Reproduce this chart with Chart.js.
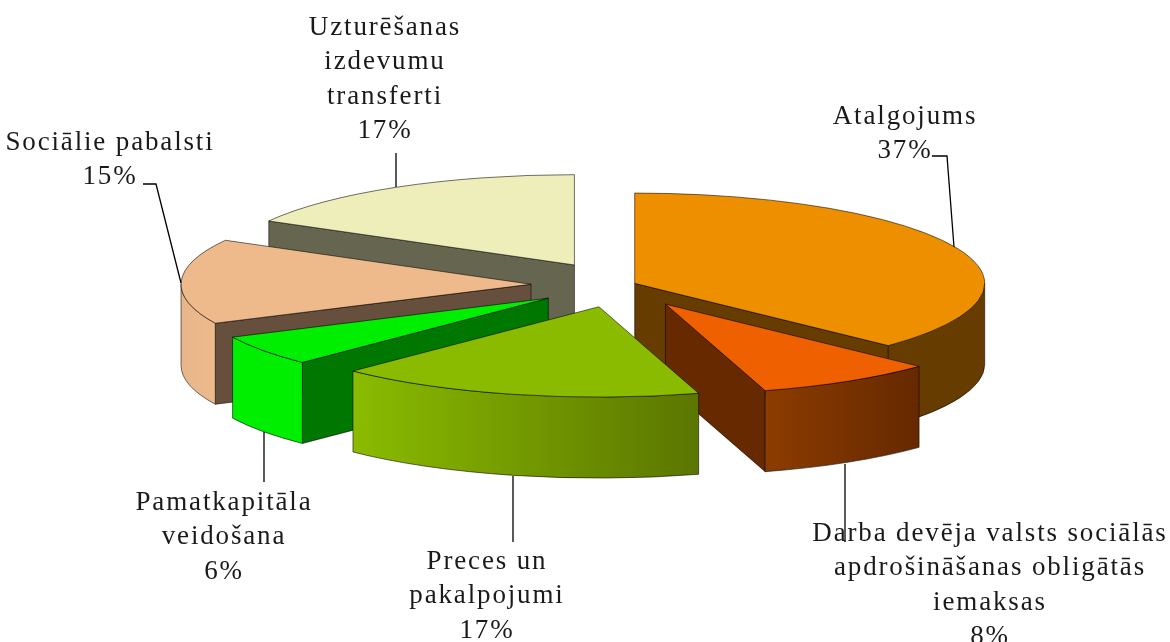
<!DOCTYPE html>
<html>
<head>
<meta charset="utf-8">
<style>
  html, body { margin: 0; padding: 0; background: #fff; overflow: hidden; }
  canvas { display: block; }
</style>
<script src="https://cdn.jsdelivr.net/npm/chart.js@4"></script>
</head>
<body>
<canvas id="pie" width="1170" height="642"></canvas>
<script>
const categories = [
    "Atalgojums",
    "Darba devēja valsts sociālās apdrošināšanas obligātās iemaksas",
    "Preces un pakalpojumi",
    "Pamatkapitāla veidošana",
    "Sociālie pabalsti",
    "Uzturēšanas izdevumu transferti"
];
// the labels show them rounded
const shares = [37.1, 8.3, 17.0, 5.5, 15.2, 16.9];

// wrapped the way the picture wraps them
const labelLines = [
    ["Atalgojums"],
    ["Darba devēja valsts sociālās", "apdrošināšanas obligātās", "iemaksas"],
    ["Preces un", "pakalpojumi"],
    ["Pamatkapitāla", "veidošana"],
    ["Sociālie pabalsti"],
    ["Uzturēšanas", "izdevumu", "transferti"]
];

// styling
const topColors  = ['#ee8f00', '#ee6000', '#8abb00', '#00ee00', '#eeba8c', '#eeeebb'];
const edgeColors = ['#663c00', '#662900', '#5b7600', '#007700', '#664f3c', '#666650'];
const rimFrom    = ['#663c00', '#8c3c00', '#8abb00', '#00ee00', '#e6b68a', '#eeeebb'];
const rimTo      = ['#663c00', '#662900', '#5b7600', '#00ee00', '#eeba8c', '#eeeebb'];
const explode    = [16, 87, 87, 88, 89, 90];
const paintOrder = [5, 4, 0, 1, 3, 2];
const squash = 0.258;
const depth = 81;
const outline = 'rgba(0,0,0,0.7)';

// [centre x, first baseline] for each label
const labelPos = [[905, 124], [990, 541], [487, 569], [224, 510], [110, 150], [385, 35]];
const leaders = [
    [[932, 156], [947, 156], [954, 247]],
    [[845, 464], [845, 542]],
    [[513, 476], [513, 542]],
    [[264, 432], [264, 482]],
    [[143, 184], [156, 184], [181, 283]],
    [[396, 153], [396, 187]]
];

const pie3d = {
    id: 'pie3d',
    // the flat arcs are drawn below, squashed, once the walls are in place
    beforeDatasetDraw() { return false; },
    afterDatasetsDraw(chart) {
        const ctx = chart.ctx;
        const arcs = chart.getDatasetMeta(0).data;
        paintOrder.forEach(function (i) { drawSlice(ctx, arcs[i], i); });
    },
    afterDraw(chart) {
        const ctx = chart.ctx;
        ctx.save();
        ctx.fillStyle = '#1a1a1a';
        ctx.font = '27px "Liberation Serif"';
        ctx.letterSpacing = '1.85px';
        ctx.textAlign = 'center';
        labelLines.forEach(function (lines, i) {
            const rows = lines.concat(Math.round(shares[i]) + '%');
            rows.forEach(function (row, r) {
                ctx.fillText(row, labelPos[i][0], labelPos[i][1] + r * 34.3);
            });
        });
        ctx.strokeStyle = '#000';
        ctx.lineWidth = 1.3;
        leaders.forEach(function (pts) {
            ctx.beginPath();
            pts.forEach(function (p, n) {
                if (n === 0) ctx.moveTo(p[0], p[1]);
                else ctx.lineTo(p[0], p[1]);
            });
            ctx.stroke();
        });
        ctx.restore();
    }
};

function drawSlice(ctx, arc, i) {
    const mid = (arc.startAngle + arc.endAngle) / 2;
    const R = arc.outerRadius;
    const ax = arc.x + Math.cos(mid) * explode[i];
    const ay = arc.y + Math.sin(mid) * explode[i] * squash;
    const rimX = function (t) { return ax + R * Math.cos(t); };
    const rimY = function (t) { return ay + R * squash * Math.sin(t); };

    // straight walls facing the viewer
    [arc.startAngle, arc.endAngle].forEach(function (t, n) {
        const c = Math.cos(t);
        if ((n === 0 && c > -0.01) || (n === 1 && c < 0.01)) return;
        ctx.beginPath();
        ctx.moveTo(ax, ay);
        ctx.lineTo(rimX(t), rimY(t));
        ctx.lineTo(rimX(t), rimY(t) + depth);
        ctx.lineTo(ax, ay + depth);
        ctx.closePath();
        ctx.fillStyle = edgeColors[i];
        ctx.fill();
        ctx.strokeStyle = outline;
        ctx.lineWidth = 0.8;
        ctx.stroke();
    });

    // curved wall, only the part on the front half
    const from = Math.max(arc.startAngle, 0);
    const to = Math.min(arc.endAngle, Math.PI);
    if (to > from) {
        const grad = ctx.createLinearGradient(Math.min(rimX(from), rimX(to)), 0, Math.max(rimX(from), rimX(to)), 0);
        grad.addColorStop(0, rimFrom[i]);
        grad.addColorStop(1, rimTo[i]);
        ctx.beginPath();
        ctx.ellipse(ax, ay, R, R * squash, 0, from, to);
        ctx.ellipse(ax, ay + depth, R, R * squash, 0, to, from, true);
        ctx.closePath();
        ctx.fillStyle = grad;
        ctx.fill();
        ctx.strokeStyle = outline;
        ctx.lineWidth = 0.8;
        ctx.stroke();
    }

    // top face is the chart's own arc element
    ctx.save();
    ctx.translate(0, arc.y);
    ctx.scale(1, squash);
    ctx.translate(0, -arc.y);
    ctx.translate(Math.cos(mid) * explode[i], Math.sin(mid) * explode[i]);
    arc.draw(ctx);
    ctx.restore();

    ctx.beginPath();
    ctx.moveTo(ax, ay);
    ctx.ellipse(ax, ay, R, R * squash, 0, arc.startAngle, arc.endAngle);
    ctx.closePath();
    ctx.strokeStyle = outline;
    ctx.lineWidth = 0.8;
    ctx.stroke();
}

new Chart(document.getElementById('pie'), {
    type: 'pie',
    plugins: [pie3d],
    data: {
        labels: categories,
        datasets: [{
            data: shares,
            backgroundColor: topColors,
            borderWidth: 0
        }]
    },
    options: {
        responsive: false,
        animation: false,
        radius: 350,
        layout: { padding: { left: 70, bottom: 72 } },
        plugins: {
            legend: { display: false },
            tooltip: { enabled: false }
        }
    }
});
</script>
</body>
</html>
